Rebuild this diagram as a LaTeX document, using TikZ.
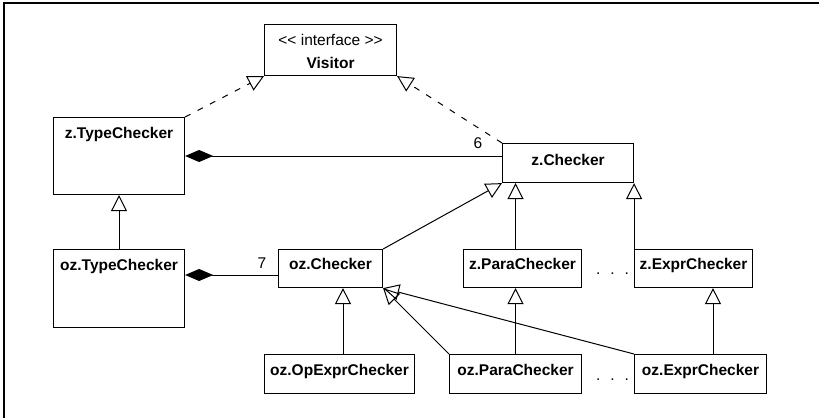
\documentclass[tikz,border=0pt]{standalone}
\usepackage{fontspec}
\setmainfont{Liberation Sans}
\usetikzlibrary{arrows.meta,calc}
\begin{document}
\begin{tikzpicture}[x=1pt,y=-1pt,
  cls/.style={draw,line width=1.1pt,inner sep=0pt,anchor=north west},
  txt/.style={inner sep=0pt,font=\fontsize{15.5}{18}\selectfont},
  btxt/.style={inner sep=0pt,font=\fontsize{15.5}{18}\selectfont\bfseries,anchor=base},
  conn/.style={line width=1pt},
  gen/.style={conn,-{Triangle[open,length=16pt,width=16pt,line width=1pt]}},
  real/.style={conn,dash pattern=on 6pt off 8pt,-{Triangle[open,length=16pt,width=16pt,line width=1pt]}},
  comp/.style={conn,{Diamond[length=28pt,width=12pt]}-}
]
\useasboundingbox (0,0) rectangle (819,418);
% frame
\draw[line width=2pt] (4,418) -- (4,2.5) -- (819,2.5);

% boxes
\node[cls,minimum width=132pt,minimum height=51pt] (vis) at (264,24) {};
\node[txt,anchor=base] (visA) at ([yshift=-21pt]vis.north) {<{}< interface >{}>};
\node[btxt] (visB) at ([yshift=-44pt]vis.north) {Visitor};

\node[cls,minimum width=131pt,minimum height=77pt] (ztc) at (53,117) {};
\node[btxt] (ztcT) at ([yshift=-21pt]ztc.north) {z.TypeChecker};

\node[cls,minimum width=131pt,minimum height=78pt] (otc) at (53,249) {};
\node[btxt] (otcT) at ([yshift=-21pt]otc.north) {oz.TypeChecker};

\node[cls,minimum width=131pt,minimum height=39pt] (zc) at (502,143) {};
\node[btxt] (zcT) at ([yshift=-22pt]zc.north) {z.Checker};

\node[cls,minimum width=104pt,minimum height=38pt] (oc) at (278,249) {};
\node[btxt] (ocT) at ([yshift=-20pt]oc.north) {oz.Checker};

\node[cls,minimum width=118pt,minimum height=38pt] (zpc) at (463,249) {};
\node[btxt] (zpcT) at ([yshift=-20pt]zpc.north) {z.ParaChecker};

\node[cls,minimum width=118pt,minimum height=38pt] (zec) at (634,249) {};
\node[btxt] (zecT) at ([yshift=-20pt]zec.north) {z.ExprChecker};

\node[cls,minimum width=150pt,minimum height=39pt] (oop) at (264,354) {};
\node[btxt] (oopT) at ([yshift=-21pt]oop.north) {oz.OpExprChecker};

\node[cls,minimum width=132pt,minimum height=39pt] (opc) at (449,354) {};
\node[btxt] (opcT) at ([yshift=-21pt]opc.north) {oz.ParaChecker};

\node[cls,minimum width=132pt,minimum height=39pt] (oec) at (634,354) {};
\node[btxt] (oecT) at ([yshift=-21pt]oec.north) {oz.ExprChecker};

% dots
\node[txt] (dots1) at (612.5,274) {.\hskip 10pt.\hskip 10pt.};
\node[txt] (dots2) at (612.5,380) {.\hskip 10pt.\hskip 10pt.};

% realizations
\draw[real] (ztc.north east) -- (vis.south west);
\draw[real] (zc.north west) -- (vis.south east);

% compositions
\draw[comp] ([yshift=-39pt]ztc.north east) -- ([yshift=-39pt]ztc.north east -| zc.west);
\node[txt] (m6) at (478,143.5) {6};
\draw[comp] ([yshift=-26pt]otc.north east) -- ([yshift=-26pt]otc.north east -| oc.west);
\node[txt] (m7) at (262,263) {7};

% anchor points for off-centre connectors
\coordinate (ocB) at ([xshift=65pt]oc.south west);
\coordinate (zecB) at ([xshift=79pt]zec.south west);

% generalizations
\draw[gen] (otc.north) -- (ztc.south);
\draw[gen] (oc.north east) -- (zc.south west);
\draw[gen] (opc.north |- zpc.north) -- (opc.north |- zc.south);
\draw[gen] (zc.south east |- zec.north) -- (zc.south east);
\draw[gen] (ocB |- oop.north) -- (ocB);
\draw[gen] (opc.north) -- (opc.north |- zpc.south);
\draw[gen] (zecB |- oec.north) -- (zecB);
\draw[gen] (opc.north west) -- (oc.south east);
\draw[gen] (oec.north west) -- (oc.south east);
\end{tikzpicture}
\end{document}
